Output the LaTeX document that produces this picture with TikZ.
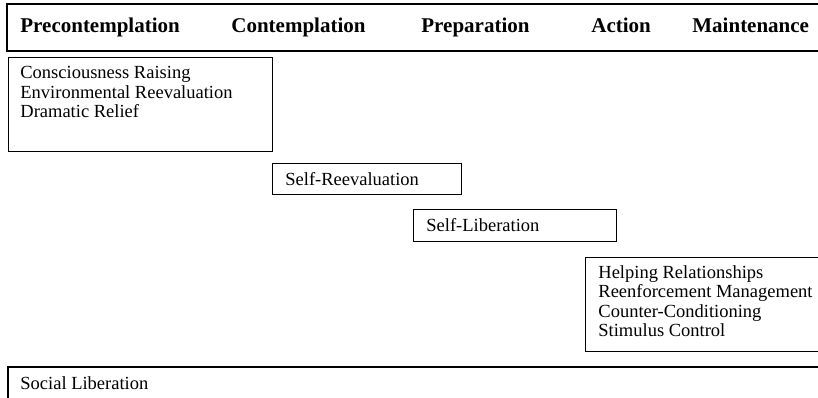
\documentclass[tikz,border=0pt]{standalone}
\usepackage{fontspec}
\setmainfont{Liberation Serif}

\begin{document}
\begin{tikzpicture}[x=1pt, y=-1pt, line width=.8pt,
    stage/.style={anchor=base west, inner sep=0pt, font=\fontsize{21}{24}\selectfont\bfseries},
    proc/.style={anchor=north west, inner sep=0pt, align=left, font=\fontsize{18.5}{19.5}\selectfont}]

    \useasboundingbox (0,0) rectangle (818,397);
    \clip (0,0) rectangle (818,397);

    % stages of change
    \draw[line width=1.2pt] (7,4) rectangle (830,51);
    \node[stage] (precon) at (20,32) {Precontemplation};
    \node[stage] (contem) at (231,32) {Contemplation};
    \node[stage] (prepar) at (421,32) {Preparation};
    \node[stage] (action) at (591,32) {Action};
    \node[stage] (mainte) at (692,32) {Maintenance};

    % processes of change
    \draw (8,57) rectangle (272,151);
    \node[proc] (aware) at (20,66) {Consciousness Raising\\Environmental Reevaluation\\Dramatic Relief};

    \draw (272,163) rectangle (461,194);
    \node[proc] (selfre) at (285,172) {Self-Reevaluation};

    \draw (413,209) rectangle (616,241);
    \node[proc] (selflib) at (426,218) {Self-Liberation};

    \draw (585,257) rectangle (830,351);
    \node[proc] (behav) at (598,265) {Helping Relationships\\Reenforcement Management\\Counter-Conditioning\\Stimulus Control};

    \draw[line width=1.2pt] (8,367) rectangle (830,420);
    \node[proc] (social) at (20,376) {Social Liberation};
\end{tikzpicture}
\end{document}
